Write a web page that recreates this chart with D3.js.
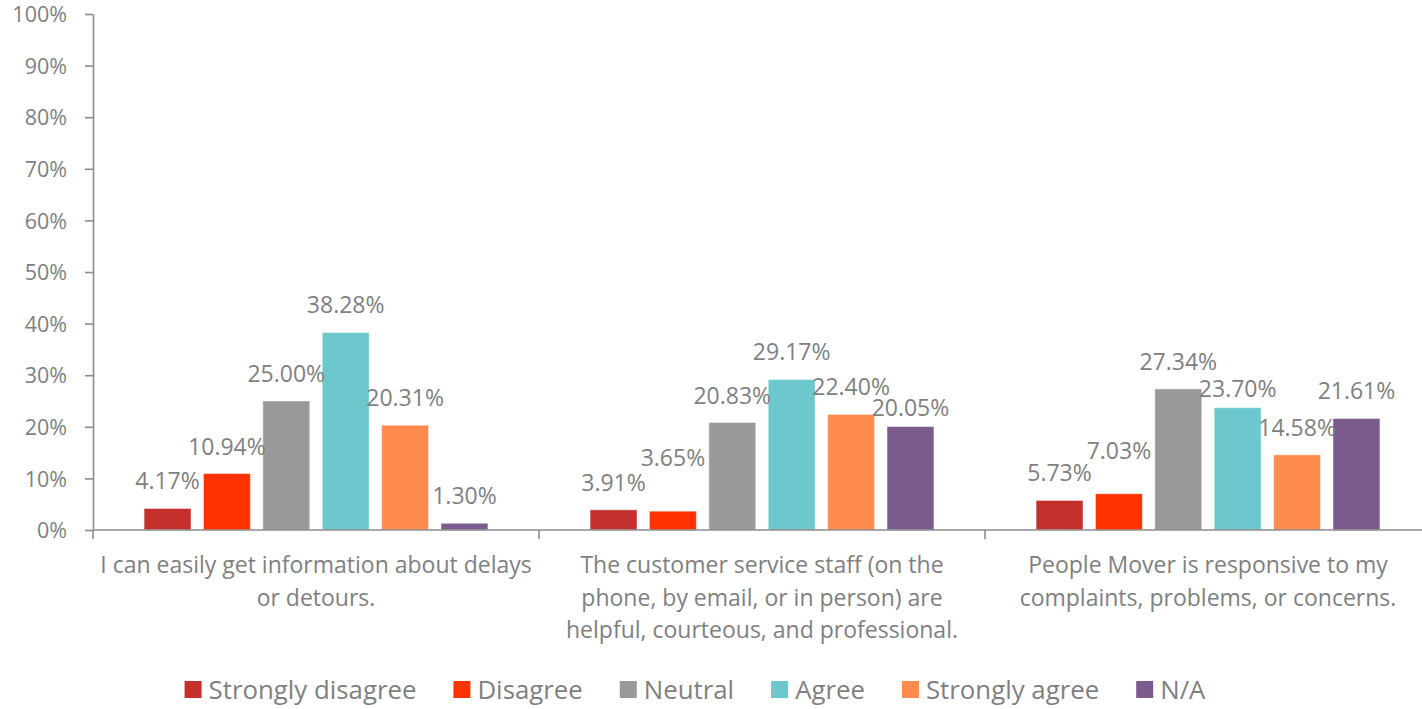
<!DOCTYPE html>
<html>
<head>
<meta charset="utf-8">
<script src="https://cdn.jsdelivr.net/npm/d3@7"></script>
<style>
  html, body { margin: 0; padding: 0; background: #ffffff; }
  svg { display: block; }
  text { font-family: "Open Sans", sans-serif; fill: #7f7f7f; }
</style>
</head>
<body>
<svg id="chart" width="1422" height="709"></svg>
<script>
const categories = [
  ["I can easily get information about delays", "or detours."],
  ["The customer service staff (on the", "phone, by email, or in person) are", "helpful, courteous, and professional."],
  ["People Mover is responsive to my", "complaints, problems, or concerns."]
];
const seriesNames = ["Strongly disagree", "Disagree", "Neutral", "Agree", "Strongly agree", "N/A"];
const stronglyDisagree = [4.17, 3.91, 5.73];
const disagree = [10.94, 3.65, 7.03];
const neutral = [25.00, 20.83, 27.34];
const agree = [38.28, 29.17, 23.70];
const stronglyAgree = [20.31, 22.40, 14.58];
const na = [1.30, 20.05, 21.61];
const seriesValues = [stronglyDisagree, disagree, neutral, agree, stronglyAgree, na];
const colors = ["#C4302B", "#FF3300", "#999999", "#6CC8CC", "#FF8B4F", "#7B5B8E"];
const yTicks = [0, 10, 20, 30, 40, 50, 60, 70, 80, 90, 100];

// layout: gap (px) between bar top and its label baseline; a few labels were nudged in the original
const labelGapDefault = 19;
const labelGapOverrides = { "1-1": 45, "5-1": 11, "3-2": 11, "1-2": 35 }; // "series-category"

const svg = d3.select("#chart");
const mLeft = 93, mTop = 14, mBottom = 530, bandW = 446;

const x0 = d3.scaleBand().domain(d3.range(categories.length)).range([mLeft, mLeft + bandW * 3]).padding(0);
const x1 = d3.scaleBand().domain(d3.range(seriesNames.length)).range([0, x0.bandwidth()])
  .paddingInner(0.21).paddingOuter(0.86);
const y = d3.scaleLinear().domain([0, 100]).range([mBottom, mTop]);

// bars
seriesValues.forEach((vals, si) => {
  svg.append("g").selectAll("rect").data(vals).join("rect")
    .attr("x", (d, ci) => x0(ci) + x1(si))
    .attr("y", d => y(d))
    .attr("width", x1.bandwidth())
    .attr("height", d => y(0) - y(d))
    .attr("fill", colors[si])
    .attr("stroke", "rgba(255,255,255,0.45)")
    .attr("stroke-width", 1);
});

// data labels
seriesValues.forEach((vals, si) => {
  svg.append("g").selectAll("text").data(vals).join("text")
    .attr("x", (d, ci) => x0(ci) + x1(si) + x1.bandwidth() / 2)
    .attr("y", (d, ci) => y(d) - (labelGapOverrides[si + "-" + ci] ?? labelGapDefault))
    .attr("text-anchor", "middle")
    .style("font-size", "23px")
    .text(d => d.toFixed(2) + "%");
});

// y axis
const yAxis = d3.axisLeft(y).tickValues(yTicks).tickFormat(d => d + "%").tickSizeInner(8).tickSizeOuter(0).tickPadding(18);
const gy = svg.append("g").attr("transform", `translate(${mLeft},0)`).call(yAxis);
gy.select(".domain").attr("stroke", "#8c8c8c").attr("stroke-width", 1.6);
gy.selectAll(".tick line").attr("stroke", "#8c8c8c").attr("stroke-width", 1.6);
gy.selectAll(".tick text").style("font-size", "21.5px").attr("fill", "#7f7f7f").attr("font-family", "Open Sans").attr("dy", "0.36em");

// x axis line and boundary ticks
svg.append("line").attr("x1", mLeft).attr("x2", 1422).attr("y1", mBottom).attr("y2", mBottom)
  .attr("stroke", "#8c8c8c").attr("stroke-width", 1.6);
const bounds = d3.range(categories.length + 1).map(i => mLeft + i * bandW);
svg.append("g").selectAll("line").data(bounds).join("line")
  .attr("x1", d => d).attr("x2", d => d).attr("y1", mBottom).attr("y2", mBottom + 9)
  .attr("stroke", "#8c8c8c").attr("stroke-width", 1.6);

// category labels
categories.forEach((lines, ci) => {
  const t = svg.append("text")
    .attr("text-anchor", "middle")
    .style("font-size", "23px");
  lines.forEach((ln, li) => {
    t.append("tspan").attr("x", x0(ci) + x0.bandwidth() / 2).attr("y", 573 + li * 32.5).text(ln);
  });
});

// legend
const lg = svg.append("g");
const items = seriesNames.map((name, i) => {
  const g = lg.append("g");
  g.append("rect").attr("x", 0).attr("y", -18).attr("width", 17).attr("height", 17).attr("fill", colors[i]);
  const tx = g.append("text").attr("x", 24).attr("y", 0).style("font-size", "25.8px").text(name);
  return { g, w: 24 + tx.node().getComputedTextLength() };
});
const gap = 37;
const total = d3.sum(items, d => d.w) + gap * (items.length - 1);
let cx = 695 - total / 2;
items.forEach(it => {
  it.g.attr("transform", `translate(${cx},699)`);
  cx += it.w + gap;
});
</script>
</body>
</html>
